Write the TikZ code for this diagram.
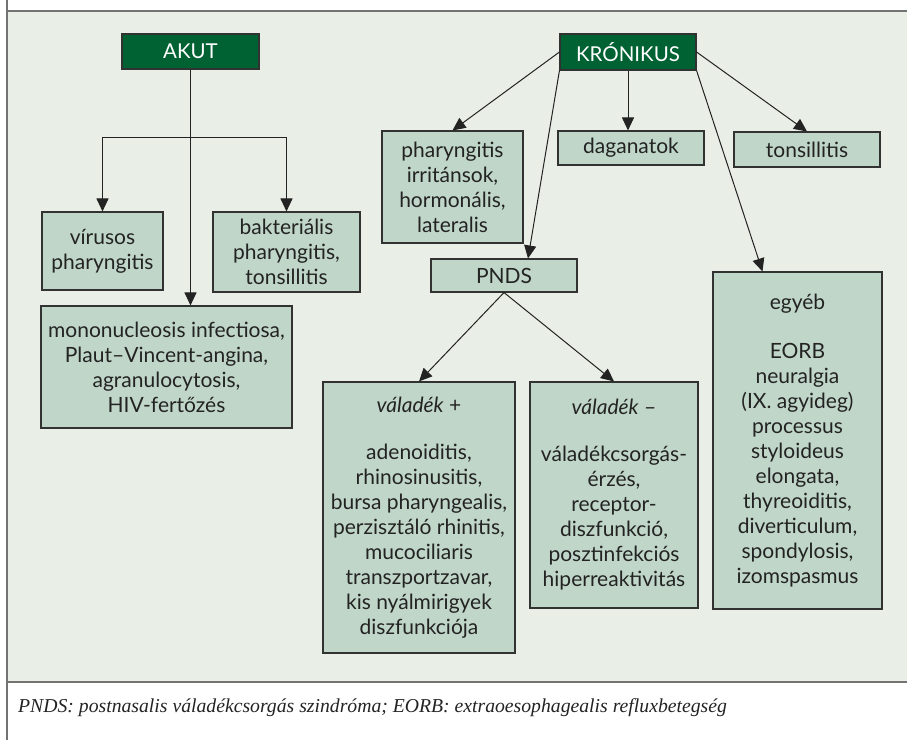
\documentclass[tikz,border=0pt]{standalone}
\usepackage{fontspec}
\setmainfont{Lato}
\newfontfamily\notefont{Liberation Serif}
\usetikzlibrary{arrows.meta}

\definecolor{panelbg}{RGB}{233,239,230}
\definecolor{boxgreen}{RGB}{192,214,200}
\definecolor{headgreen}{RGB}{0,98,51}
\definecolor{boxline}{RGB}{50,50,50}
\definecolor{frameline}{RGB}{115,115,115}
\definecolor{textgray}{RGB}{35,35,35}

\tikzstyle{head} = [rectangle, minimum width=137pt, minimum height=35pt, text centered, draw=boxline, line width=1.1pt, fill=headgreen, text=white, font=\fontsize{20.5}{24}\selectfont]
\tikzstyle{box} = [rectangle, inner sep=0pt, align=center, draw=boxline, line width=1.1pt, fill=boxgreen, text=textgray, font=\fontsize{21}{25}\selectfont]
\tikzstyle{note} = [anchor=base west, inner sep=0pt, text=textgray, font=\notefont\itshape\fontsize{19.7}{24}\selectfont]
\tikzstyle{arrow} = [line width=1pt, draw=textgray, -{Triangle[length=13pt,width=12pt]}]
\tikzstyle{link} = [line width=1pt, draw=textgray]

\begin{document}
\begin{tikzpicture}[x=1pt, y=-1pt]
\useasboundingbox (0,0) rectangle (907,740);

% frame
\fill[panelbg] (7,11) rectangle (907,682);
\draw[frameline, line width=1.6pt] (7,11) -- (907,11);
\draw[frameline, line width=1.2pt] (7,682) -- (907,682);
\draw[frameline, line width=1.2pt] (7,0) -- (7,740);

% objects
\node (akut) at (190.5,51.5) [head] {AKUT};
\node (kron) at (628,52) [head, minimum width=136pt, minimum height=36pt] {KRÓNIKUS};

\node (virus) at (102.5,251) [box, minimum width=121pt, minimum height=78pt] {vírusos\\pharyngitis};
\node (bakt) at (286.5,252) [box, minimum width=147pt, minimum height=80pt] {bakteriális\\pharyngitis,\\tonsillitis};
\node (mono) at (166.5,367) [box, minimum width=251pt, minimum height=122pt] {mononucleosis infectiosa,\\Plaut–Vincent-angina,\\agranulocytosis,\\HIV-fertőzés};

\node (phar) at (452.5,187) [box, minimum width=141pt, minimum height=112pt] {pharyngitis\\irritánsok,\\hormonális,\\lateralis};
\node (dag) at (631,148) [box, minimum width=146pt, minimum height=34pt] {daganatok};
\node (tons) at (807,149.5) [box, minimum width=146pt, minimum height=35pt] {tonsillitis};
\node (pnds) at (504,275.5) [box, minimum width=146pt, minimum height=33pt] {PNDS};

\node (valp) at (419,517.5) [box, minimum width=192pt, minimum height=271pt] {\textit{váladék} +\\[22pt]adenoiditis,\\rhinosinusitis,\\bursa pharyngealis,\\perzisztáló rhinitis,\\mucociliaris\\transzportzavar,\\kis nyálmirigyek\\diszfunkciója};
\node (valm) at (614,495) [box, minimum width=168pt, minimum height=226pt] {\textit{váladék} –\\[22pt]váladékcsorgás-\\érzés,\\receptor-\\diszfunkció,\\posztinfekciós\\hiperreaktivitás};
\node (egyeb) at (797.5,440.5) [box, minimum width=169pt, minimum height=337pt] {egyéb\\[24pt]EORB\\neuralgia\\(IX. agyideg)\\processus\\styloideus\\elongata,\\thyreoiditis,\\diverticulum,\\spondylosis,\\izomspasmus};

\node (footnote) at (18,712) [note] {PNDS: postnasalis váladékcsorgás szindróma; EORB: extraoesophagealis refluxbetegség};

% arrows
\coordinate (split) at (190.5,137);
\draw [arrow] (akut) -- (akut |- mono.north);
\draw [link] (virus |- split) -- (bakt |- split);
\draw [arrow] (split) -| (virus);
\draw [arrow] (split) -| (bakt);

\draw [arrow] (kron.west) -- (phar.north);
\draw [arrow] (kron.south) -- (kron.south |- dag.north);
\draw [arrow] (kron.east) -- (tons.north);
\draw [arrow] (kron.south west) -- ([xshift=24pt]pnds.north);
\draw [arrow] (kron.south east) -- ([xshift=-35pt]egyeb.north);

\draw [arrow] (pnds.south) -- (valp.north);
\draw [arrow] (pnds.south) -- (valm.north);

\end{tikzpicture}
\end{document}
